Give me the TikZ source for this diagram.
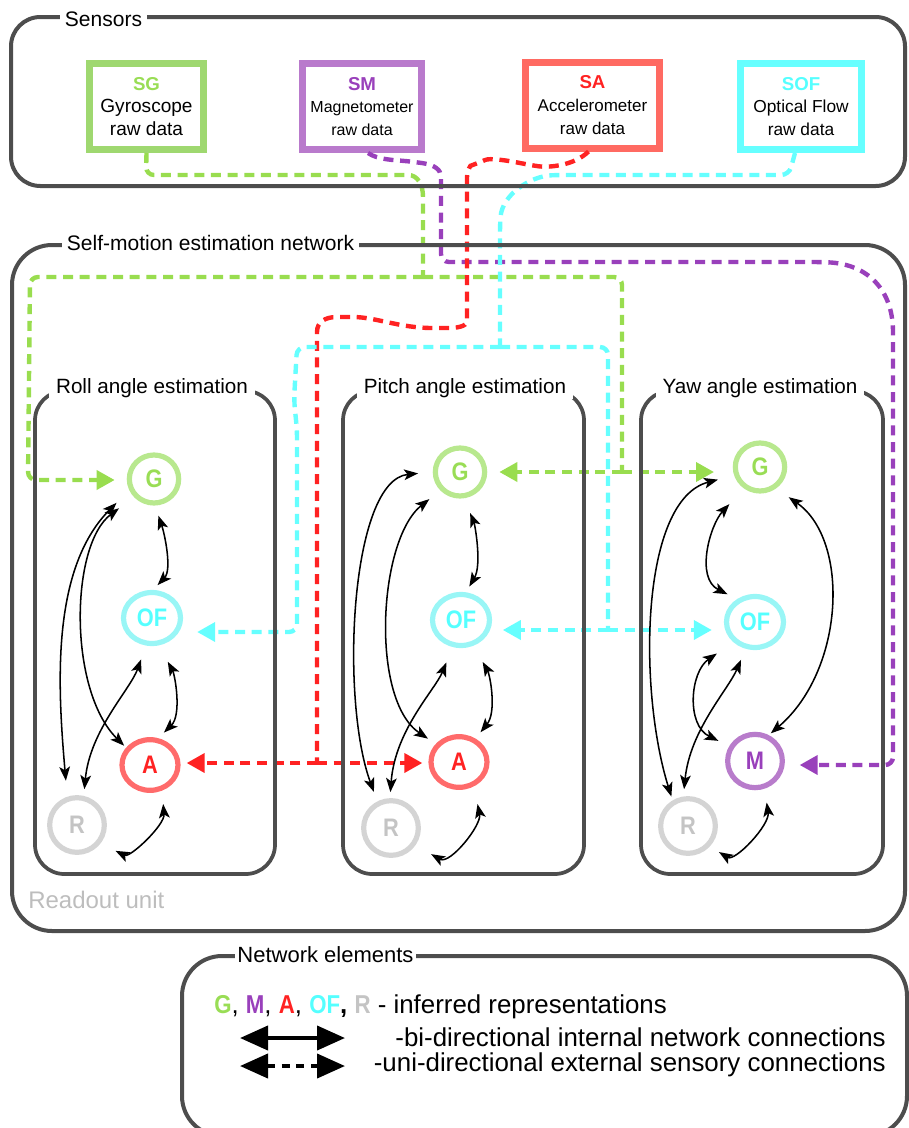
\documentclass[tikz,border=0pt]{standalone}
\usepackage{fontspec}
\setmainfont{Liberation Sans}
\newfontfamily\condfont{Liberation Sans}[FakeStretch=0.86]
\usetikzlibrary{arrows.meta,shapes.geometric}

% Couleurs
\definecolor{cadre}{HTML}{4D4D4D}
\definecolor{vertC}{HTML}{9FD870}
\definecolor{vertT}{HTML}{99DD55}
\definecolor{vertN}{HTML}{B8E88E}
\definecolor{vertL}{HTML}{99DD4F}
\definecolor{violetC}{HTML}{B97ACC}
\definecolor{violetT}{HTML}{9940BB}
\definecolor{violetN}{HTML}{B87CCB}
\definecolor{violetL}{HTML}{9940BB}
\definecolor{rougeC}{HTML}{FF6A62}
\definecolor{rougeT}{HTML}{FF2222}
\definecolor{rougeN}{HTML}{FF6B6B}
\definecolor{rougeL}{HTML}{FF2222}
\definecolor{cyanC}{HTML}{66FFFF}
\definecolor{cyanT}{HTML}{55FFFF}
\definecolor{cyanN}{HTML}{99F6F6}
\definecolor{cyanL}{HTML}{66FFFF}
\definecolor{grisN}{HTML}{D4D4D4}
\definecolor{grisT}{HTML}{C4C4C4}
\definecolor{grisR}{HTML}{BDBDBD}

\newcommand{\etiq}[2]{{\bfseries\fontsize{14}{17}\selectfont\color{#1}#2}}
\newcommand{\replettre}[2]{{\condfont\bfseries\color{#1}#2}}

\tikzset{
    boite/.style={draw=cadre, line width=3pt},
    titre/.style={fill=white, inner xsep=4pt, inner ysep=1pt, font=\fontsize{15.75}{18}\selectfont},
    capteur/.style={draw=#1, line width=5.25pt, minimum height=64.5pt, inner sep=0pt, align=center},
    rep/.style={ellipse, line width=3.9pt, inner sep=0pt, font=\condfont\bfseries\fontsize{19}{20}\selectfont},
    repG/.style={rep, draw=vertN, text=vertT, minimum width=37pt, minimum height=36pt},
    repOF/.style={rep, draw=cyanN, text=cyanT, minimum width=42.75pt, minimum height=38.25pt},
    repA/.style={rep, draw=rougeN, text=rougeT, minimum width=42pt, minimum height=38pt},
    repM/.style={rep, draw=violetN, text=violetT, minimum width=41pt, minimum height=40pt},
    repR/.style={rep, draw=grisN, text=grisT, minimum width=41pt, minimum height=41pt},
    fil/.style={draw=#1, line width=3.3pt, dash pattern=on 7.5pt off 5pt, rounded corners=6pt},
    ext/.style={fil=#1, -{Triangle[length=13.5pt,width=14pt]}},
    int/.style={{Stealth[length=10.5pt,width=8pt,inset=2.5pt]}-{Stealth[length=10.5pt,width=8pt,inset=2.5pt]}, line width=1.15pt},
    legende/.style={inner sep=0pt, font=\fontsize{19.4}{22}\selectfont}
}

\begin{document}
\begin{tikzpicture}[x=0.75pt, y=-0.75pt]
    \useasboundingbox (0,0) rectangle (908,1128);

    % Capteurs
    \node[capteur=vertC, minimum width=85.5pt, font=\fontsize{14.3}{17}\selectfont] (sg) at (146.5,106.5) {\etiq{vertT}{SG}\\Gyroscope\\raw data};
    \node[capteur=violetC, minimum width=89pt, font=\fontsize{12}{17}\selectfont] (sm) at (362,106.5) {\etiq{violetT}{SM}\\Magnetometer\\raw data};
    \node[capteur=rougeC, minimum width=100.5pt, font=\fontsize{12.75}{17}\selectfont] (sa) at (592.5,105) {\etiq{rougeT}{SA}\\Accelerometer\\raw data};
    \node[capteur=cyanC, minimum width=91pt, font=\fontsize{13}{17}\selectfont] (sof) at (801,106.5) {\etiq{cyanT}{SOF}\\Optical Flow\\raw data};

    % Representations (roll, pitch, yaw)
    \node[repG] (g1) at (154,479) {G};
    \node[repOF] (of1) at (152,618) {OF};
    \node[repA] (a1) at (150,765) {A};
    \node[repR] (r1) at (77,825) {R};

    \node[repG] (g2) at (460,472) {G};
    \node[repOF] (of2) at (461,620) {OF};
    \node[repA] (a2) at (459,762) {A};
    \node[repR] (r2) at (391,828) {R};

    \node[repG] (g3) at (760,467) {G};
    \node[repOF] (of3) at (755,622) {OF};
    \node[repM] (m3) at (755,761) {M};
    \node[repR] (r3) at (688,826) {R};

    % Connexions externes : gyroscope
    \coordinate (gj) at (423,277);
    \coordinate (gk) at (622,472);
    \draw[fil=vertL] (sg.south) -- (146,175) -- (400,175) .. controls (418,175) and (423,185) .. (423,205) -- (gj);
    \draw[ext=vertL, shorten >=9pt] (gj) -- (30,277) -- (28,480) -- (28,480 -| g1.west);
    \draw[fil=vertL] (gj) -- (622,277) -- (gk);
    \draw[ext=vertL, shorten >=9pt] (gk) -- (gk -| g2.east);
    \draw[ext=vertL, shorten >=14pt] (gk) -- (gk -| g3.west);

    % magnetometre
    \draw[ext=violetL, shorten >=11pt] ([xshift=4.5pt]sm.south) .. controls (378,160) and (395,160) .. (415,162)
        .. controls (435,165) and (441,170) .. (441,185) -- (441,262) -- (820,262)
        .. controls (868,264) and (893,290) .. (893,340) -- (893,765) -- (893,765 -| m3.east);

    % accelerometre
    \coordinate (rj) at (317,763);
    \draw[fil=rougeL] ([xshift=-3pt]sa.south) .. controls (575,165) and (550,168) .. (530,165)
        .. controls (505,160) and (490,158) .. (478,163) .. controls (470,166) and (467,172) .. (467,185)
        -- (467,313) .. controls (467,327) and (455,328) .. (440,328)
        .. controls (400,328) and (375,317) .. (345,317) .. controls (325,317) and (317,322) .. (317,340) -- (rj);
    \draw[ext=rougeL, shorten >=4.5pt] (rj) -- (rj -| a1.east);
    \draw[ext=rougeL, shorten >=4.5pt] (rj) -- (rj -| a2.west);

    % flux optique
    \coordinate (cj) at (500,347);
    \coordinate (ck) at (608,630);
    \draw[fil=cyanL] ([xshift=-4.5pt]sof.south) -- (789,175) -- (560,175) .. controls (530,176) and (502,195) .. (500,225) -- (cj);
    \draw[ext=cyanL, shorten >=10.5pt] (cj) -- (297,347) -- (294,400) -- (297,430) -- (297,632) -- (297,632 -| of1.east);
    \draw[fil=cyanL] (cj) -- (608,347) -- (ck);
    \draw[ext=cyanL, shorten >=8pt] (ck) -- (ck -| of2.east);
    \draw[ext=cyanL, shorten >=9pt] (ck) -- (ck -| of3.west);

    % Cadres
    \draw[boite, rounded corners=22pt] (11,17) rectangle (905,186);
    \node[titre] (tsens) at (103.5,19) {Sensors};
    \draw[boite, rounded corners=30pt] (12,245) rectangle (905,931);
    \node[titre] (tres) at (210.5,243) {Self-motion estimation network};
    \foreach \xa/\xb/\xt/\nom/\titre in {35/275/152/roll/{Roll angle estimation}, 343/584/465/pitch/{Pitch angle estimation}, 641/883/760/yaw/{Yaw angle estimation}} {
        \draw[boite, line width=2.8pt, rounded corners=22pt] (\xa,391) rectangle (\xb,874);
        \node[titre, font=\fontsize{15.5}{18}\selectfont, inner xsep=5pt] (t\nom) at (\xt,388) {\titre};
    }
    \node[anchor=west, inner sep=0pt, text=grisR, font=\fontsize{18}{20}\selectfont] (lect) at (28,900) {Readout unit};

    % Connexions internes (roll)
    \draw[int, shorten <=8pt, shorten >=5pt] (g1.-88) .. controls (165,535) and (172,570) .. (of1.88);
    \draw[int, shorten <=14pt, shorten >=6pt] (of1.-76) .. controls (175,675) and (182,715) .. (a1.73);
    \draw[int, shorten <=14pt, shorten >=2pt] (g1.-138) .. controls (70,545) and (68,690) .. (a1.144);
    \draw[int, shorten <=13.5pt, shorten >=12pt] (g1.-156) .. controls (50,570) and (58,690) .. (r1.109);
    \draw[int, shorten <=11pt, shorten >=5pt] (of1.-102) .. controls (130,690) and (90,730) .. (r1.77);
    \draw[int, shorten <=10pt, shorten >=12.5pt] (a1.-65) .. controls (165,825) and (130,858) .. (r1.-38);

    % Connexions internes (pitch)
    \draw[int, shorten <=12pt, shorten >=5pt] (g2.-81) .. controls (475,525) and (482,565) .. (of2.80);
    \draw[int, shorten <=14pt, shorten >=6pt] (of2.-64) .. controls (490,675) and (497,712) .. (a2.55);
    \draw[int, shorten <=10.5pt, shorten >=7pt] (g2.-137) .. controls (378,540) and (370,700) .. (a2.142);
    \draw[int, shorten <=11pt, shorten >=7.5pt] (g2.180) .. controls (350,480) and (340,700) .. (r2.117);
    \draw[int, shorten <=12.5pt, shorten >=4.5pt] (of2.-107) .. controls (435,690) and (395,730) .. (r2.92);
    \draw[int, shorten <=13.5pt, shorten >=13.5pt] (a2.-59) .. controls (482,825) and (450,865) .. (r2.-35);

    % Connexions internes (yaw)
    \draw[int, shorten <=16pt, shorten >=8pt] (g3.-127) .. controls (710,525) and (695,578) .. (of3.128);
    \draw[int, shorten <=11.5pt, shorten >=2pt] (g3.-53) .. controls (850,540) and (845,670) .. (m3.62);
    \draw[int, shorten <=12.5pt, shorten >=3pt] (g3.-162) .. controls (640,500) and (638,690) .. (r3.121);
    \draw[int, shorten <=15pt, shorten >=9pt] (of3.-137) .. controls (690,672) and (686,725) .. (m3.150);
    \draw[int, shorten <=9pt, shorten >=5.5pt] (of3.-109) .. controls (728,690) and (690,730) .. (r3.99);
    \draw[int, shorten <=10.5pt, shorten >=8pt] (m3.-71) .. controls (770,825) and (735,862) .. (r3.-43);

    % Legende
    \draw[boite, rounded corners=30pt] (182,956) rectangle (907,1136);
    \node[titre, font=\fontsize{16.5}{18}\selectfont, inner xsep=2pt] (tleg) at (325.5,955) {Network elements};
    \node[legende, anchor=west] (leg1) at (214,1007) {\replettre{vertT}{G}, \replettre{violetT}{M}, \replettre{rougeT}{A}, \replettre{cyanT}{OF}\textbf{,} \replettre{grisT}{R} - inferred representations};
    \coordinate (l1a) at (240,1038);
    \coordinate (l1b) at (345,1038);
    \draw[{Triangle[length=21pt,width=18pt]}-{Triangle[length=21pt,width=18pt]}, line width=3pt] (l1a) -- (l1b);
    \node[legende, anchor=east] (leg2) at (886,1037) {-bi-directional internal network connections};
    \coordinate (l2a) at (240,1066);
    \coordinate (l2b) at (345,1066);
    \draw[{Triangle[length=21pt,width=18pt]}-{Triangle[length=21pt,width=18pt]}, line width=3pt, dash pattern=on 6pt off 5pt] (l2a) -- (l2b);
    \node[legende, anchor=east] (leg3) at (886,1065) {-uni-directional external sensory connections};
\end{tikzpicture}
\end{document}
